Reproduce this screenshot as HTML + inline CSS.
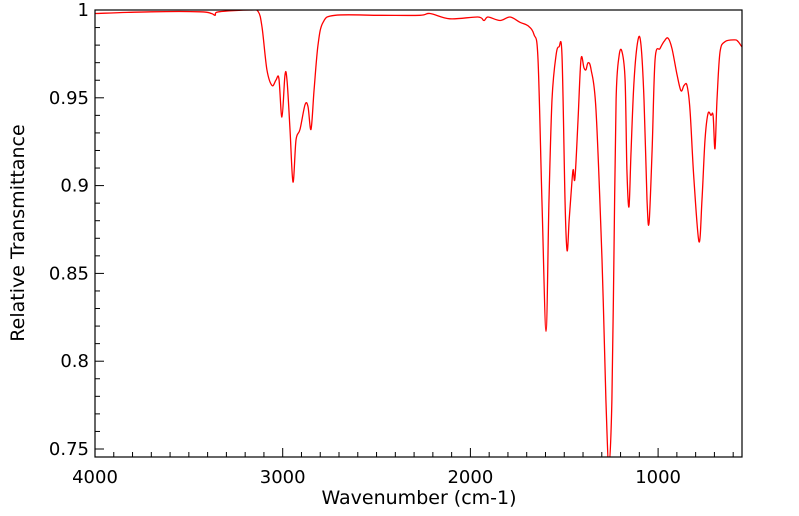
<!DOCTYPE html>
<html><head><meta charset="utf-8"><style>
html,body{margin:0;padding:0;background:#fff;}
svg{display:block;font-family:"DejaVu Sans","Liberation Sans",sans-serif;}
</style></head><body>
<svg id="chart" width="799" height="516" viewBox="0 0 799 516" xmlns="http://www.w3.org/2000/svg">
<defs><clipPath id="clip"><rect x="95" y="10" width="647" height="447"/></clipPath></defs>
<g id="grid"></g>
<path id="line" fill="none" stroke="#ff0000" stroke-width="1.3" stroke-linejoin="round" clip-path="url(#clip)"/>
<rect x="95" y="10" width="647" height="447" fill="none" stroke="#000" stroke-width="1.2"/>
<text x="419" y="504" font-size="19" text-anchor="middle">Wavenumber (cm-1)</text>
<text transform="translate(24,233) rotate(-90)" font-size="19" text-anchor="middle">Relative Transmittance</text>
</svg>
<script>
const wavenumbers=[4000,3700,3440,3380,3360,3340,3175,3130,3110,3084,3057,3036,3020,3004,2988,2977,2961,2945,2929,2908,2881,2865,2849,2833,2812,2785,2721,2482,2269,2215,2109,1960,1928,1906,1842,1789,1736,1693,1661,1640,1619,1597,1581,1565,1544,1528,1512,1496,1485,1474,1464,1453,1443,1427,1411,1395,1384,1373,1357,1331,1299,1278,1262,1246,1235,1224,1208,1192,1176,1166,1155,1144,1128,1107,1091,1075,1059,1048,1032,1016,990,969,947,926,899,878,862,846,830,809,782,766,750,734,718,707,697,686,670,643,590,574,553];
const transmittance=[0.998,0.999,0.999,0.998,0.997,0.999,1.0,0.999,0.990,0.966,0.957,0.960,0.961,0.939,0.963,0.960,0.932,0.902,0.926,0.932,0.946,0.945,0.932,0.954,0.980,0.993,0.997,0.997,0.997,0.998,0.995,0.996,0.994,0.996,0.994,0.996,0.993,0.991,0.986,0.972,0.892,0.817,0.892,0.949,0.974,0.979,0.974,0.892,0.863,0.880,0.895,0.909,0.904,0.937,0.972,0.967,0.966,0.970,0.966,0.943,0.858,0.778,0.74,0.778,0.863,0.949,0.974,0.976,0.960,0.909,0.888,0.920,0.960,0.983,0.980,0.949,0.892,0.879,0.920,0.972,0.978,0.982,0.984,0.978,0.963,0.954,0.957,0.957,0.943,0.903,0.868,0.892,0.926,0.941,0.940,0.940,0.921,0.949,0.976,0.982,0.983,0.982,0.979];
const xTickLabels=[4000,3000,2000,1000];
const yTickLabels=[0.75,0.8,0.85,0.9,0.95,1];
const X0=95,X1=742,Y0=10,Y1=457;
function xs(w){return X0+(4000-w)*0.1877;}
function ys(t){return Y0+(1-t)*1756;}
const svg=document.getElementById('chart'),g=document.getElementById('grid'),NS='http://www.w3.org/2000/svg';
function mk(tag,at,txt){const e=document.createElementNS(NS,tag);for(const k in at)e.setAttribute(k,at[k]);if(txt!==undefined)e.textContent=txt;g.appendChild(e);return e;}
// spectrum (Catmull-Rom smoothing)
const P=wavenumbers.map((w,i)=>[xs(w),ys(transmittance[i])]);
let d='M'+P[0][0].toFixed(1)+','+P[0][1].toFixed(1);
for(let i=0;i<P.length-1;i++){
 const p0=P[Math.max(0,i-1)],p1=P[i],p2=P[i+1],p3=P[Math.min(P.length-1,i+2)];
 const c1=[p1[0]+(p2[0]-p0[0])/6,p1[1]+(p2[1]-p0[1])/6];
 const c2=[p2[0]-(p3[0]-p1[0])/6,p2[1]-(p3[1]-p1[1])/6];
 d+='C'+c1[0].toFixed(1)+','+c1[1].toFixed(1)+' '+c2[0].toFixed(1)+','+c2[1].toFixed(1)+' '+p2[0].toFixed(1)+','+p2[1].toFixed(1);
}
document.getElementById('line').setAttribute('d',d);
for(let w=4000;w>=560;w-=100){const x=xs(w);const major=w%1000===0;
 const t=mk('line',{x1:x,x2:x,y1:Y1,y2:Y1-(major?9:5),stroke:'#000','stroke-width':1});
 
 }
xTickLabels.forEach(v=>{const t=mk('text',{x:xs(v),y:483,'font-size':18,'text-anchor':'middle'},String(v));
 
 });
for(let k=0;k<=25;k++){const v=0.75+k*0.01;const y=ys(v);const major=k%5===0;
 const t=mk('line',{x1:X0,x2:X0+(major?9:5),y1:y,y2:y,stroke:'#000','stroke-width':1});
 
 }
yTickLabels.forEach(v=>{const t=mk('text',{x:89,y:ys(v)+6,'font-size':18,'text-anchor':'end'},String(v));
 
 });
</script>
</body></html>
